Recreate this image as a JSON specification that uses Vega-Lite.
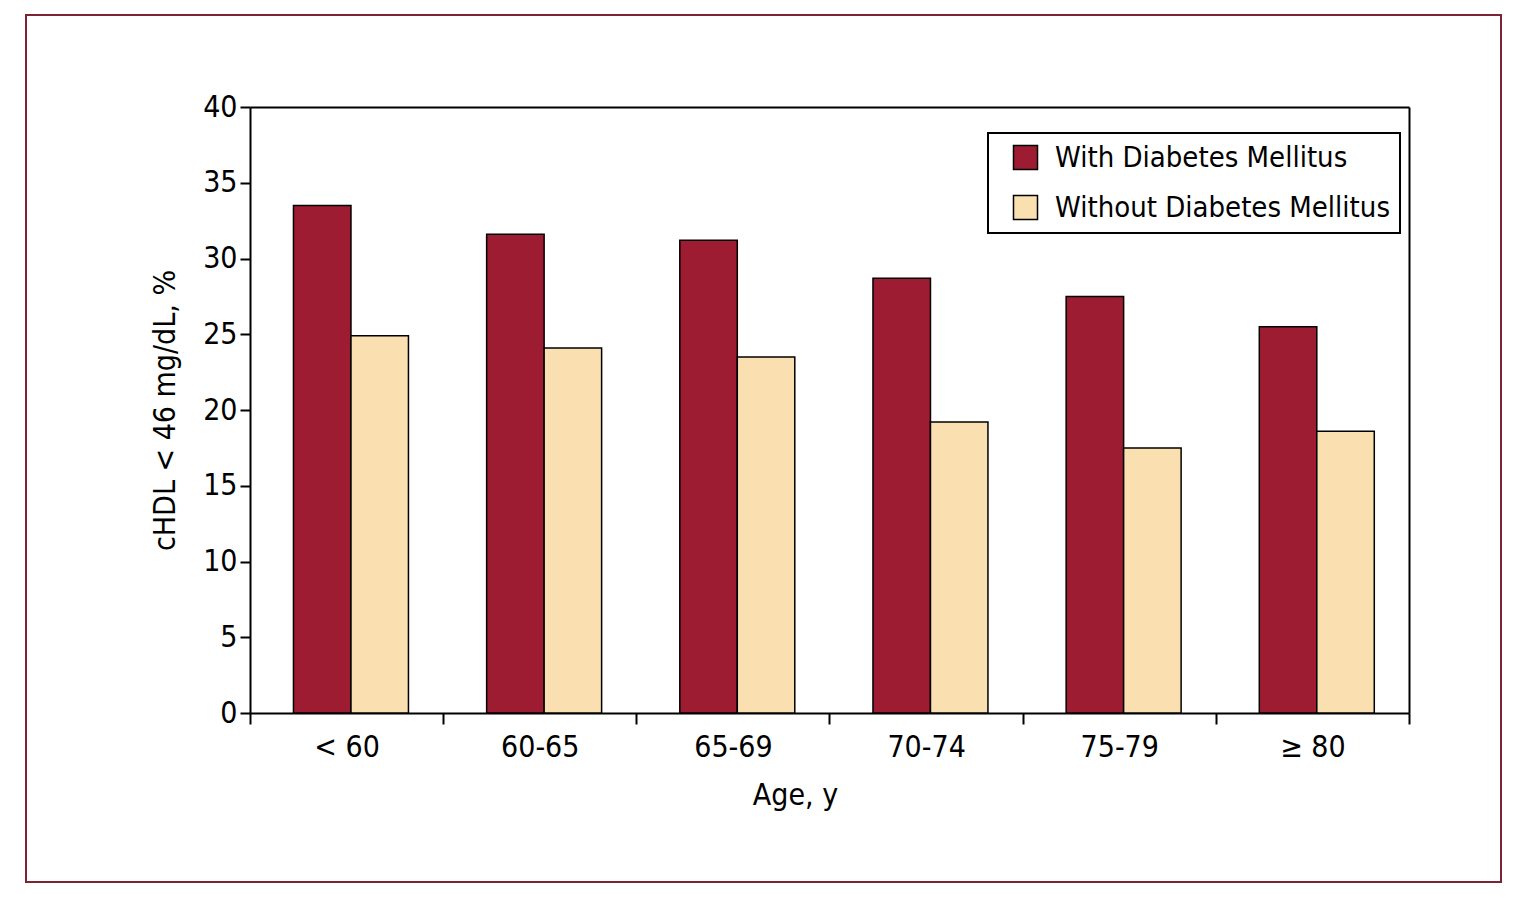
{
  "$schema": "https://vega.github.io/schema/vega-lite/v6.json",
  "width": 1475,
  "height": 867,
  "autosize": {"type": "none"},
  "padding": {"left": 26, "top": 15, "right": 19, "bottom": 26},
  "background": "white",
  "config": {
    "font": "DejaVu Sans Condensed",
    "view": {"stroke": "#7b2433", "strokeWidth": 2},
    "legend": {"strokeWidth": 2},
    "axis": {
      "domainColor": "black",
      "domainWidth": 2,
      "tickColor": "black",
      "tickWidth": 2,
      "labelColor": "black",
      "titleColor": "black",
      "labelFont": "DejaVu Sans Condensed",
      "titleFont": "DejaVu Sans Condensed",
      "labelFontSize": 30,
      "titleFontSize": 30,
      "titleFontWeight": "normal",
      "grid": false
    }
  },
  "data": {
    "values": [
      {"age": "< 60", "group": "With Diabetes Mellitus", "value": 33.5},
      {"age": "< 60", "group": "Without Diabetes Mellitus", "value": 24.9},
      {"age": "60-65", "group": "With Diabetes Mellitus", "value": 31.6},
      {"age": "60-65", "group": "Without Diabetes Mellitus", "value": 24.1},
      {"age": "65-69", "group": "With Diabetes Mellitus", "value": 31.2},
      {"age": "65-69", "group": "Without Diabetes Mellitus", "value": 23.5},
      {"age": "70-74", "group": "With Diabetes Mellitus", "value": 28.7},
      {"age": "70-74", "group": "Without Diabetes Mellitus", "value": 19.2},
      {"age": "75-79", "group": "With Diabetes Mellitus", "value": 27.5},
      {"age": "75-79", "group": "Without Diabetes Mellitus", "value": 17.5},
      {"age": "≥ 80", "group": "With Diabetes Mellitus", "value": 25.5},
      {"age": "≥ 80", "group": "Without Diabetes Mellitus", "value": 18.6}
    ]
  },
  "layer": [
    {
      "mark": {"type": "bar", "stroke": "black", "strokeWidth": 1.5},
      "encoding": {
        "x": {
          "field": "age",
          "type": "nominal",
          "sort": ["< 60", "60-65", "65-69", "70-74", "75-79", "≥ 80"],
          "scale": {"range": [224, 1383], "paddingInner": 0, "paddingOuter": 0},
          "axis": {
            "orient": "bottom",
            "offset": -169,
            "title": "Age, y",
            "titleX": 769,
            "titlePadding": 18,
            "labelAngle": 0,
            "tickBand": "extent",
            "tickSize": 11,
            "labelPadding": 8
          }
        },
        "xOffset": {
          "field": "group",
          "sort": ["With Diabetes Mellitus", "Without Diabetes Mellitus"],
          "scale": {"paddingInner": 0, "paddingOuter": 0.68, "align": 0.556}
        },
        "y": {
          "field": "value",
          "type": "quantitative",
          "scale": {"domain": [0, 40], "range": [698, 92], "nice": false, "zero": true},
          "axis": {
            "orient": "left",
            "offset": -224,
            "title": "cHDL < 46 mg/dL, %",
            "values": [0, 5, 10, 15, 20, 25, 30, 35, 40],
            "tickSize": 10,
            "labelPadding": 3,
            "titlePadding": 22
          }
        },
        "fill": {
          "field": "group",
          "type": "nominal",
          "scale": {
            "domain": ["With Diabetes Mellitus", "Without Diabetes Mellitus"],
            "range": ["#9e1c31", "#fadfb1"]
          },
          "legend": {
            "title": null,
            "orient": "none",
            "legendX": 962,
            "legendY": 118,
            "strokeColor": "black",
            "fillColor": "white",
            "padding": 10,
            "symbolOffset": 13,
            "symbolType": "square",
            "symbolSize": 576,
            "symbolStrokeColor": "black",
            "symbolStrokeWidth": 1.5,
            "labelFont": "DejaVu Sans Condensed",
            "labelFontSize": 29,
            "labelColor": "black",
            "labelOffset": 15,
            "labelLimit": 600,
            "rowPadding": 19
          }
        }
      }
    },
    {
      "mark": {"type": "bar", "opacity": 0},
      "encoding": {
        "x": {
          "field": "age",
          "type": "nominal",
          "sort": ["< 60", "60-65", "65-69", "70-74", "75-79", "≥ 80"],
          "axis": {"orient": "top", "offset": -92, "title": null, "labels": false, "ticks": false}
        },
        "y": {
          "field": "value",
          "type": "quantitative",
          "axis": {"orient": "right", "offset": -92, "title": null, "labels": false, "ticks": false}
        }
      }
    }
  ],
  "resolve": {"axis": {"x": "independent", "y": "independent"}}
}
